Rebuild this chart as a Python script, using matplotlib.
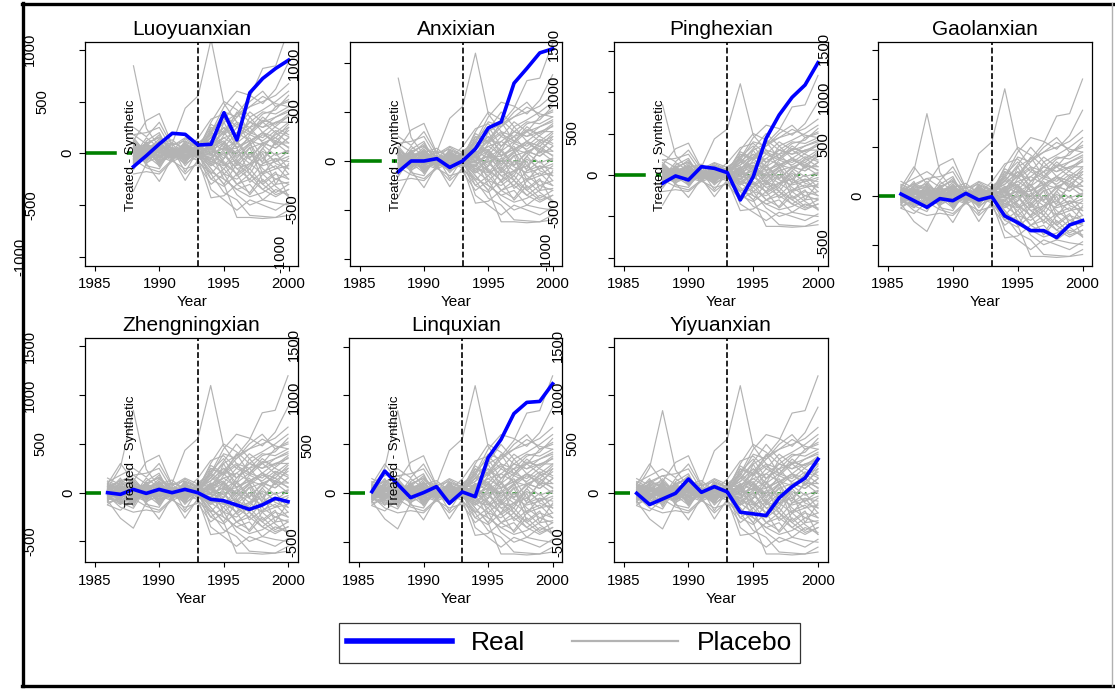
import matplotlib
matplotlib.use("Agg")
import matplotlib.pyplot as plt
from matplotlib.lines import Line2D

plt.rcParams["font.family"] = ["Liberation Sans", "DejaVu Sans"]

W, H = 1115, 689

# ---- data ----
YEARS = list(range(1986, 2001))
TREATMENT_YEAR = 1993

COUNTIES = ["Luoyuanxian", "Anxixian", "Pinghexian", "Gaolanxian",
            "Zhengningxian", "Linquxian", "Yiyuanxian"]
REAL_START = [1988, 1988, 1988, 1986, 1986, 1986, 1986]

REAL_LUOYUANXIAN = [-129, -23, 90, 193, 183, 80, 87, 392, 129, 585, 723, 820, 900]
REAL_ANXIXIAN = [-110, 0, 0, 24, -65, 0, 124, 337, 399, 794, 945, 1103, 1144]
REAL_PINGHEXIAN = [-100, -12, -60, 100, 80, 28, -301, -20, 442, 723, 936, 1085, 1354]
REAL_GAOLANXIAN = [20, -48, -116, -27, -48, 27, -41, -7, -205, -273, -355, -355, -426, -297, -252]
REAL_ZHENGNINGXIAN = [0, -17, 34, -7, 34, 0, 34, 0, -68, -82, -126, -171, -126, -58, -92]
REAL_LINQUXIAN = [17, 227, 92, -44, 7, 68, -102, 14, -34, 363, 549, 814, 929, 939, 1119]
REAL_YIYUANXIAN = [0, -115, -58, 0, 146, 10, 68, 14, -193, -210, -227, -47, 68, 156, 349]

REAL = [REAL_LUOYUANXIAN, REAL_ANXIXIAN, REAL_PINGHEXIAN, REAL_GAOLANXIAN,
        REAL_ZHENGNINGXIAN, REAL_LINQUXIAN, REAL_YIYUANXIAN]

# placebo gaps (donor units), 1986-2000
PLACEBO = [
    [40, 260, 845, 240, 60, 20, 30, -10, 80, 150, 60, 120, 200, 150, 280],
    [-30, 20, 60, 40, 100, 95, 435, 555, 1100, 480, 300, 250, 380, 420, 560],
    [30, -20, 50, 10, 30, 0, 40, 20, 150, 300, 380, 540, 820, 845, 1200],
    [60, 120, 180, 90, 160, 40, 80, 30, 200, 450, 600, 560, 480, 620, 880],
    [-50, -100, -160, 50, -80, 20, -60, 10, -150, -300, -620, -620, -630, -620, -600],
    [20, -70, -90, 30, -40, 10, -30, -20, -200, -380, -450, -600, -610, -620, -550],
    [90, 300, 120, 316, 384, 80, 120, 60, 250, 200, 350, 450, 500, 560, 673],
    [-80, -262, -364, -100, -272, -40, -262, -60, -430, -410, -300, -250, -350, -420, -350],
    [50, 60, 20, 100, 150, 30, 60, 40, 120, 250, 150, 300, 400, 380, 450],
    [-40, -50, -80, -20, -120, 10, -100, -30, -100, -200, -250, -150, -300, -200, -250],
    [100, 40, 60, -50, 80, -30, 20, 10, 50, -50, 100, 200, 150, 260, 360],
    [-100, -60, 20, -80, 40, -60, 60, -40, -60, 100, -80, -150, 50, -100, -150],
    [30, 80, -50, 70, -30, 50, -20, 30, 300, 500, 420, 300, 250, 300, 350],
    [-20, -30, 110, -60, 120, -20, 90, -10, -50, -150, -300, -380, -200, -320, -420],
    [10, 150, -100, 120, 200, -50, 110, 50, 30, 100, 250, 180, 300, 350, 420],
    [60, -120, 90, -120, -150, 60, -120, 20, -250, -320, -200, -400, -250, -380, -300],
    [-60, 20, -20, 40, 60, 20, 10, 80, 0, 50, -100, 50, 100, 50, 150],
    [0, 100, 180, 200, 250, 30, 140, 60, 150, 320, 500, 350, 420, 500, 600],
    [-30, -150, -200, -177, -200, -75, -150, -109, -300, -200, -400, -500, -450, -480, -500],
    [80, 50, -30, 150, 50, 90, -50, 100, 200, 100, 0, -100, -50, -150, -50],
    [-120, -40, 60, -20, -60, -30, 30, 0, 80, 200, 300, 100, 200, 80, 250],
    [40, 0, -120, 60, 100, -10, 70, 20, -120, -50, 150, 250, 300, 450, 500],
    [-10, 60, 40, -40, -10, 40, -40, -20, 100, -100, -200, 0, -150, -250, -200],
    [150, 80, 100, 30, 90, 130, 20, 147, 330, 380, 250, 400, 300, 200, 300],
    [-126, -180, -60, -140, -180, -60, -200, -80, -200, -50, 100, -50, 100, 150, 50],
    [20, -10, 0, 10, -20, 0, 0, 0, 50, 150, 200, 300, 250, 350, 400],
    [70, 30, 150, 0, 120, -20, 100, -40, 0, -250, -350, -300, -450, -350, -400],
    [-60, -90, -100, 80, -100, 30, -80, 40, -80, 0, -150, -250, -100, -50, -80],
    [110, 180, 250, 160, 300, 70, 150, 90, 180, 400, 350, 500, 600, 450, 520],
    [-90, 120, -140, 100, -130, 50, -180, 30, -350, -450, -550, -450, -500, -550, -470],
    [30, -60, 80, -30, 60, -40, 40, -50, 100, 30, 50, 150, -50, 100, 100],
    [-40, 70, -50, 50, -40, 60, -60, 70, -20, 300, 50, -200, 0, -300, -100],
    [50, -30, 30, -100, 30, -50, 120, -60, 250, 180, 400, 200, 350, 250, 180],
    [0, 40, -30, 20, 10, -10, 20, 10, -150, -300, -100, -200, -350, -250, -300],
    [-70, 10, 70, -60, 90, 20, -30, 60, 120, 250, 100, 350, 200, 300, 300],
    [120, 60, -20, 90, -70, 100, 50, -20, -50, 100, -50, 100, -200, -50, -200],
    [-20, -40, 40, -10, 20, -50, 10, -10, 0, -100, -300, -200, -300, -400, -350],
    [40, 90, 120, 20, 140, 30, 60, 50, 280, 200, 50, 120, 200, 100, 0],
    [-50, -120, -30, -90, -30, -80, -20, -70, -250, -150, 0, 100, -100, 0, -150],
    [80, 20, 0, 70, 180, -20, -100, 80, 60, -80, -200, -100, 50, 200, 100],
    [25, -45, 15, 35, -25, 15, -15, 5, 60, 120, -30, 80, 180, 120, 220],
    [-15, 35, -60, 15, 45, -35, 25, -25, -80, -120, 30, -60, -120, -80, -30],
    [55, 15, 90, -40, 70, 0, 40, 15, 160, 60, 200, 120, 80, 180, 250],
    [-35, -15, 30, 50, -90, 35, -45, -5, -20, 180, 280, 200, 320, 280, 380],
    [10, -80, -40, -30, 10, -15, 80, -35, 40, -120, -60, -280, -180, -120, -250],
    [-85, 50, 100, -70, 50, -25, 15, 25, 180, 80, -120, 0, -80, 120, 60],
    [65, -25, -70, 110, -50, 45, -90, 45, -100, 40, 120, -40, 80, -20, 30],
    [-5, 25, 10, -20, 30, 5, -10, 0, 20, -20, -150, -100, -200, -150, -120],
    [35, 130, 60, 40, 100, -45, 90, 35, 220, 350, 150, 250, 100, 50, 150],
    [-45, -80, 130, -10, 60, 25, -30, -15, -180, -250, -350, -420, -380, -300, -280],
    [90, -10, -90, 30, -110, 60, -50, 25, 70, 220, 380, 450, 550, 480, 450],
    [-25, 45, -20, -60, 0, -70, 30, -45, -120, 20, -220, -120, 20, -80, 20],
    [15, -35, 55, 80, 35, 20, -70, 55, 90, -200, -80, 60, -280, -180, -420],
    [-65, 0, -15, 5, -35, -5, 50, -5, -40, 60, 0, 180, 120, 220, 160],
]

X_TICKS = [1985, 1990, 1995, 2000]
Y_TICKS = [
    [-1000, -500, 0, 500, 1000],
    [-1000, -500, 0, 500, 1000],
    [-1000, -500, 0, 500, 1000, 1500],
    [-500, 0, 500, 1000, 1500],
    [-500, 0, 500, 1000, 1500],
    [-500, 0, 500, 1000, 1500],
    [-500, 0, 500, 1000, 1500],
]
Y_LIMITS = [(-1086, 1078), (-1068, 1217), (-1094, 1607), (-715, 1583),
            (-714, 1584), (-705, 1584), (-705, 1584)]

# ---- layout (pixels) ----
BOXES = [(85, 298.3, 41.7, 265.7), (350, 562.3, 41.7, 265.7),
         (614, 827.7, 41.7, 265.7), (878.3, 1092.3, 41.7, 265.7),
         (85, 297.7, 338.3, 562.3), (349.3, 562.3, 338.3, 562.3),
         (614, 827.7, 338.3, 562.3)]
# left axis labels: (text, value, x offset from box left)
LEFT_LABELS = [
    [("1000", 1000, -55), ("500", 500, -42.5), ("0", 0, -17.5),
     ("-500", -500, -54), ("-1000", -1000, -65)],
    [("0", 0, -18.3)],
    [("0", 0, -20.7)],
    [("0", 0, -20.8)],
    [("1500", 1500, -55), ("1000", 1000, -55), ("500", 500, -45),
     ("0", 0, -17), ("-500", -500, -55)],
    [("0", 0, -17.6)],
    [("0", 0, -20)],
]
# stray right-hand labels (absolute pixel centres)
RIGHT_LABELS = [
    [("1000", 294, 63), ("500", 294, 111), ("-500", 292, 209), ("-1000", 280, 254)],
    [("1500", 554, 44), ("1000", 554, 91), ("500", 572, 133), ("-500", 554, 213),
     ("-1000", 546, 252)],
    [("1500", 823.5, 48.5), ("1000", 823.5, 97), ("500", 823.5, 145), ("-500", 823.5, 243)],
    [],
    [("1500", 294, 344), ("1000", 294, 397), ("500", 307.5, 446), ("-500", 292, 542)],
    [("1500", 558, 345), ("1000", 558, 397), ("500", 572, 444), ("-500", 558, 542)],
    [],
]
SHOW_YLABEL = [True, True, True, False, True, True, False]

GRAY = "#b3b3b3"
XLIM = (1984.25, 2000.75)


def fx(x):
    return x / W


def fy(y):
    return 1 - y / H


fig = plt.figure(figsize=(W / 100, H / 100), dpi=100)
fig.patch.set_facecolor("white")

for i, name in enumerate(COUNTIES):
    left, right, top, bottom = BOXES[i]
    ax = fig.add_axes([fx(left), fy(bottom), (right - left) / W, (bottom - top) / H])
    start = REAL_START[i]
    k = YEARS.index(start)

    # zero reference line: long green dashes up to the first year, faint after
    green_end = start - 0.1 if start > YEARS[0] else start - 0.5
    ax.plot([XLIM[0], green_end], [0, 0], color="green", lw=2.6,
            dashes=(8.8, 2.8), solid_capstyle="butt", zorder=1)
    ax.plot([TREATMENT_YEAR, 2000], [0, 0], color="green", lw=1.1,
            dashes=(4, 3, 1, 3), zorder=1)

    for series in PLACEBO:
        ax.plot(YEARS[k:], series[k:], color=GRAY, lw=0.85, zorder=2)

    ax.plot(YEARS[k:], REAL[i], color="#0000ff", lw=2.6, zorder=4,
            solid_joinstyle="round")

    ax.axvline(TREATMENT_YEAR, color="black", lw=1.2, dashes=(3.5, 1.6), zorder=3)

    ax.set_xlim(*XLIM)
    ax.set_ylim(*Y_LIMITS[i])
    ax.set_xticks(X_TICKS)
    ax.set_yticks(Y_TICKS[i])
    ax.tick_params(axis="x", direction="out", length=3.6, width=0.8,
                   labelsize=10.8, pad=4.5)
    ax.tick_params(axis="y", direction="out", length=4.3, width=0.8,
                   labelleft=False)
    for sp in ax.spines.values():
        sp.set_linewidth(0.9)
    ax.set_title(name, fontsize=15, pad=5)
    ax.set_xlabel("Year", fontsize=11, labelpad=3)

    if SHOW_YLABEL[i]:
        ax.text(0.215, 0.494, "Treated - Synthetic", rotation=90, fontsize=9.5,
                ha="center", va="center", transform=ax.transAxes, zorder=5)

    y0, y1 = Y_LIMITS[i]
    for txt, val, dx in LEFT_LABELS[i]:
        ypx = bottom - (val - y0) / (y1 - y0) * (bottom - top)
        fig.text(fx(left + dx), fy(ypx), txt, rotation=90, fontsize=10.6,
                 ha="center", va="center")
    for txt, xpx, ypx in RIGHT_LABELS[i]:
        fig.text(fx(xpx), fy(ypx), txt, rotation=90, fontsize=10.6,
                 ha="center", va="center")

# legend
handles = [Line2D([], [], color="#0000ff", lw=4),
           Line2D([], [], color=GRAY, lw=1.6)]
leg = fig.legend(handles, ["Real", "Placebo"], loc="center",
                 bbox_to_anchor=(fx(569.2), fy(642.8)), ncol=2, fontsize=19,
                 frameon=True, fancybox=False, edgecolor="black",
                 handlelength=4.0, handletextpad=0.7, columnspacing=1.8,
                 borderpad=0.3)
leg.get_frame().set_linewidth(0.9)

# outer frame
fig.add_artist(Line2D([fx(23), fx(23)], [fy(3), fy(686)], color="black", lw=2.4))
fig.add_artist(Line2D([fx(22), fx(1115)], [fy(3.5), fy(3.5)], color="black", lw=2.4))
fig.add_artist(Line2D([fx(22), fx(1115)], [fy(686), fy(686)], color="black", lw=2.4))
fig.add_artist(Line2D([fx(1112), fx(1112)], [fy(3), fy(686)], color="#b0b0b0", lw=1))

fig.savefig("out.png", dpi=100)
